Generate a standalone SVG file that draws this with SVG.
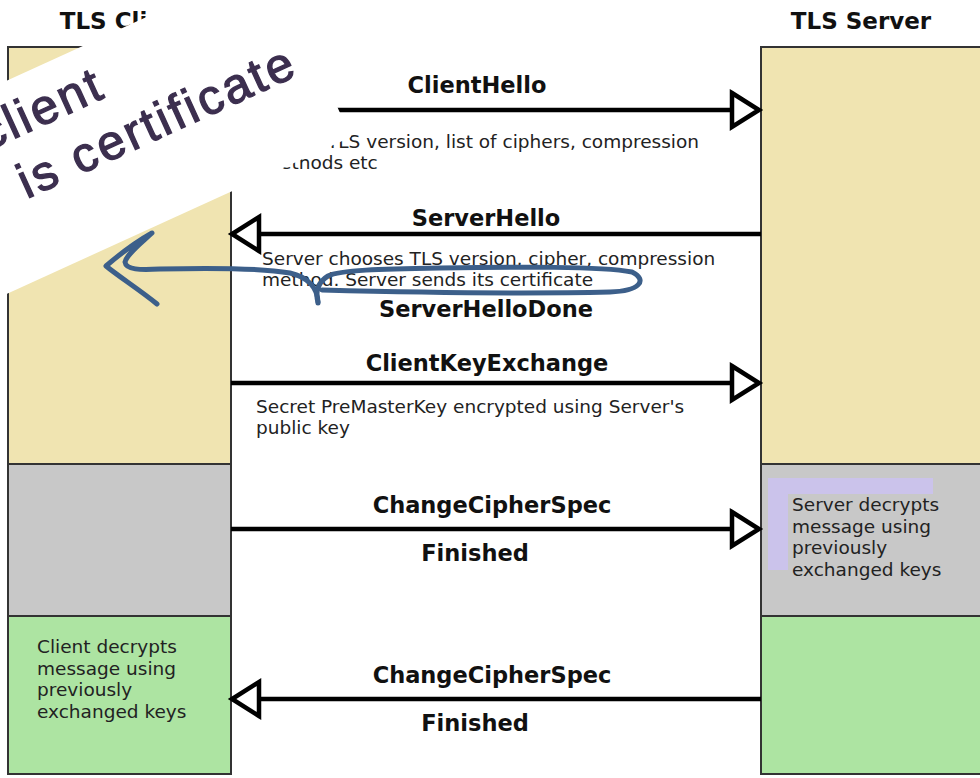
<svg xmlns="http://www.w3.org/2000/svg" width="980" height="778" viewBox="0 0 980 778">
<defs>
<style>
.box{stroke:#333;stroke-width:2}
.beige{fill:#f0e4b1}
.gray{fill:#c8c8c8}
.green{fill:#ade4a2}
.title{font-family:"DejaVu Sans",Verdana,sans-serif;font-weight:bold;font-size:23px;fill:#111;text-anchor:middle}
.lbl{font-family:"DejaVu Sans",Verdana,sans-serif;font-weight:bold;font-size:22.5px;fill:#111;text-anchor:middle}
.txt{font-family:"DejaVu Sans",Verdana,sans-serif;font-size:18.5px;fill:#222}
.msg{stroke:#000;stroke-width:4.5;fill:none;marker-end:url(#open)}
.hand{font-family:"Liberation Sans",Arial,sans-serif;font-size:49px;fill:#3c2f4f;stroke:#3c2f4f;stroke-width:1.3;letter-spacing:3px;text-anchor:end}
.ink{fill:none;stroke:#3c5f8a;stroke-width:5;stroke-linecap:round;stroke-linejoin:round}
</style>
<marker id="open" viewBox="-4 -4 38 44" markerWidth="38" markerHeight="44" markerUnits="userSpaceOnUse" refX="27" refY="18" orient="auto">
<path d="M0,1 L27,18 L0,35 Z" fill="#fff" stroke="#000" stroke-width="4.5" stroke-linejoin="miter"/>
</marker>
</defs>
<rect width="980" height="778" fill="#fff"/>

<g id="client">
<text class="title" x="125" y="29">TLS Client</text>
<rect class="box beige" x="8" y="47" width="223" height="417"/>
<rect class="box gray" x="8" y="464" width="223" height="152"/>
<rect class="box green" x="8" y="616" width="223" height="158"/>
<text class="txt" x="37" y="653">Client decrypts</text>
<text class="txt" x="37" y="675">message using</text>
<text class="txt" x="37" y="696">previously</text>
<text class="txt" x="37" y="718">exchanged keys</text>
</g>

<g id="server">
<text class="title" x="861" y="29">TLS Server</text>
<rect class="box beige" x="761" y="47" width="240" height="417"/>
<rect class="box gray" x="761" y="464" width="240" height="152"/>
<rect class="box green" x="761" y="616" width="240" height="158"/>
<rect x="768" y="478" width="165" height="92" fill="#cbc3eb"/>
<rect x="788" y="494" width="145" height="82" fill="#c8c8c8"/>
<text class="txt" x="792" y="511">Server decrypts</text>
<text class="txt" x="792" y="533">message using</text>
<text class="txt" x="792" y="554">previously</text>
<text class="txt" x="792" y="576">exchanged keys</text>
</g>

<g id="connectors">
<line class="msg" x1="231" y1="110" x2="759" y2="110"/>
<line class="msg" x1="761" y1="234" x2="232" y2="234"/>
<line class="msg" x1="231" y1="383" x2="759" y2="383"/>
<line class="msg" x1="231" y1="529" x2="759" y2="529"/>
<line class="msg" x1="761" y1="699" x2="232" y2="699"/>
</g>

<g id="labels">
<text class="lbl" x="477" y="93">ClientHello</text>
<text class="txt" x="327" y="148">TLS version, list of ciphers, compression</text>
<text class="txt" x="262" y="169">methods etc</text>
<text class="lbl" x="486" y="226">ServerHello</text>
<text class="txt" x="262" y="265">Server chooses TLS version, cipher, compression</text>
<text class="txt" x="262" y="286">method. Server sends its certificate</text>
<text class="lbl" x="486" y="317">ServerHelloDone</text>
<text class="lbl" x="487" y="371">ClientKeyExchange</text>
<text class="txt" x="256" y="413">Secret PreMasterKey encrypted using Server's</text>
<text class="txt" x="256" y="434">public key</text>
<text class="lbl" x="492" y="513">ChangeCipherSpec</text>
<text class="lbl" x="475" y="561">Finished</text>
<text class="lbl" x="492" y="683">ChangeCipherSpec</text>
<text class="lbl" x="475" y="731">Finished</text>
</g>

<g id="note" transform="translate(351,137) rotate(-24.5)">
<rect x="-900" y="-194" width="900" height="194" fill="#fff"/>
<text class="hand" x="-204" y="-138">client</text>
<text class="hand" x="-20" y="-78">is  certificate</text>
</g>

<g id="annotation">
<path class="ink" d="M157,304 C140,290 118,276 106,266 C120,254 136,242 152,233 C140,244 127,254 125,262 C126,270 140,270 160,269 C200,268 260,268 290,273 C308,277 318,288 318,303"/>
<path class="ink" d="M322,290 C400,292 520,294 610,292 C640,291 648,280 632,272 C600,266 520,267 440,268 C380,269 340,270 328,276 C318,282 315,292 318,302"/>
</g>
</svg>
